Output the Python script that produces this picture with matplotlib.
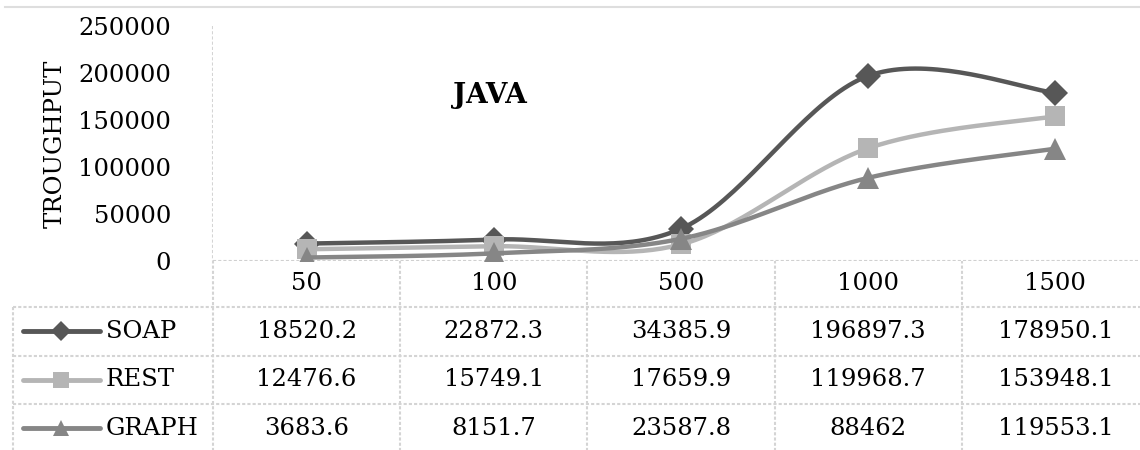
import numpy as np
import matplotlib
matplotlib.use("Agg")
import matplotlib.pyplot as plt

categories = ["50", "100", "500", "1000", "1500"]
series_names = ["SOAP", "REST", "GRAPH"]
soap = [18520.2, 22872.3, 34385.9, 196897.3, 178950.1]
rest = [12476.6, 15749.1, 17659.9, 119968.7, 153948.1]
graph = [3683.6, 8151.7, 23587.8, 88462, 119553.1]
soap_labels = ["18520.2", "22872.3", "34385.9", "196897.3", "178950.1"]
rest_labels = ["12476.6", "15749.1", "17659.9", "119968.7", "153948.1"]
graph_labels = ["3683.6", "8151.7", "23587.8", "88462", "119553.1"]
y_ticks = [0, 50000, 100000, 150000, 200000, 250000]

colors = ["#575757", "#b5b5b5", "#868686"]
markers = ["D", "s", "^"]
msizes = [13, 15, 16]
legend_ms = [10, 11, 12]
FONT = "DejaVu Serif"
FS = 17.5

W, H = 1140, 450
fig = plt.figure(figsize=(W / 100, H / 100), dpi=100)

# plot area in pixel coords
x_left, x_right = 213, 1149
y_top, y_zero = 26, 261
ax = fig.add_axes([x_left / W, (H - y_zero) / H, (x_right - x_left) / W, (y_zero - y_top) / H])
ax.set_xlim(-0.5, len(categories) - 0.5)
ax.set_ylim(0, 250000)
for s in ax.spines.values():
    s.set_visible(False)
ax.set_xticks([])
ax.set_yticks(y_ticks)
ax.set_yticklabels([str(v) for v in y_ticks], fontfamily=FONT, fontsize=FS)
ax.tick_params(axis="y", length=0, pad=30)
ax.set_ylabel("TROUGHPUT", fontfamily=FONT, fontsize=FS, labelpad=8)
ax.axhline(0, color="#d0d0d0", lw=1.5, ls=(0, (1.5, 1)), zorder=1)


def catmull(xs, ys, n=40):
    xs = np.asarray(xs, float)
    ys = np.asarray(ys, float)
    P = np.column_stack([xs, ys])
    P = np.vstack([P[0], P, P[-1]])
    out = []
    for i in range(1, len(P) - 2):
        p0, p1, p2, p3 = P[i - 1], P[i], P[i + 1], P[i + 2]
        c1 = p1 + (p2 - p0) / 6.0
        c2 = p2 - (p3 - p1) / 6.0
        t = np.linspace(0, 1, n)[:, None]
        seg = ((1 - t) ** 3) * p1 + 3 * ((1 - t) ** 2) * t * c1 + 3 * (1 - t) * t ** 2 * c2 + t ** 3 * p2
        out.append(seg if i == 1 else seg[1:])
    seg = np.vstack(out)
    return seg[:, 0], seg[:, 1]


xpos = np.arange(len(categories))
for k, vals in enumerate([soap, rest, graph]):
    sx, sy = catmull(xpos, vals)
    ax.plot(sx, sy, color=colors[k], lw=3.2, solid_capstyle="round", zorder=3 + k)
    ax.plot(xpos, vals, ls="none", marker=markers[k], ms=msizes[k], color=colors[k],
            markeredgewidth=0, zorder=3 + k)

ax.text(0.98, 176000, "JAVA", fontfamily=FONT, fontsize=20, fontweight="bold",
        ha="center", va="center")

# overlay for grid / table
ov = fig.add_axes([0, 0, 1, 1], zorder=-1)
ov.set_xlim(0, W)
ov.set_ylim(H, 0)
ov.axis("off")
gcol = "#d4d4d4"
gls = (0, (1.5, 1))
ov.plot([5, W], [7, 7], color="#dedede", lw=1.5)

cat_w = (x_right - x_left) / len(categories)
bounds = [x_left + cat_w * i for i in range(len(categories) + 1)]
for b in bounds:
    ov.plot([b, b], [y_top, H], color=gcol, lw=1.5, ls=gls)

row_tops = [307, 355.5, 404, 452.5]
tbl_left = 13
for r in row_tops:
    ov.plot([tbl_left, x_right], [r, r], color=gcol, lw=1.5, ls=gls)
ov.plot([tbl_left, tbl_left], [row_tops[0], H], color=gcol, lw=1.5, ls=gls)

centers = [x_left + cat_w * (i + 0.5) for i in range(len(categories))]
for c, lab in zip(centers, categories):
    ov.text(c, 284, lab, fontfamily=FONT, fontsize=FS, ha="center", va="center")

for k, labs in enumerate([soap_labels, rest_labels, graph_labels]):
    yc = (row_tops[k] + row_tops[k + 1]) / 2
    for c, lab in zip(centers, labs):
        ov.text(c, yc, lab, fontfamily=FONT, fontsize=FS, ha="center", va="center")
    ov.plot([23, 100], [yc, yc], color=colors[k], lw=3.5, solid_capstyle="round")
    ov.plot([61], [yc], marker=markers[k], ms=legend_ms[k], color=colors[k], markeredgewidth=0)
    ov.text(106, yc, series_names[k], fontfamily=FONT, fontsize=FS, ha="left", va="center")

fig.savefig("out.png", dpi=100)
